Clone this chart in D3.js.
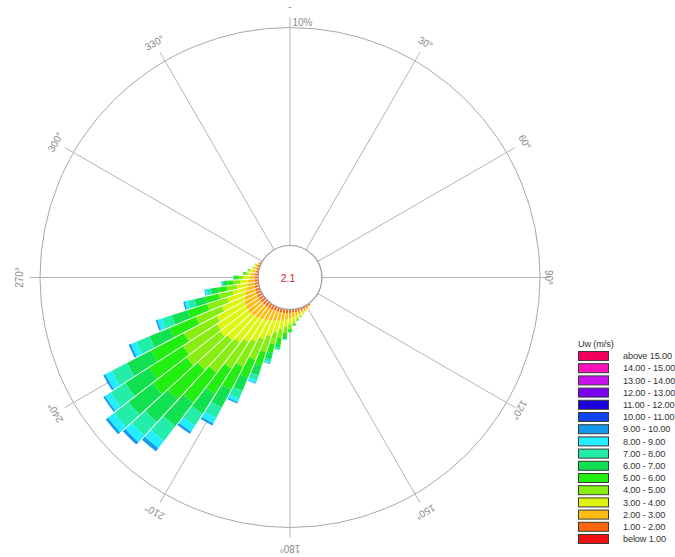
<!DOCTYPE html>
<html>
<head>
<meta charset="utf-8">
<script src="https://cdn.jsdelivr.net/npm/d3@7"></script>
<style>
  body { margin: 0; background: #fff; }
  svg { display: block; font-family: "Liberation Sans", Arial, sans-serif; }
</style>
</head>
<body>
<svg id="chart" width="675" height="557"></svg>
<script>
// Wind directions (bin centres, degrees clockwise from north), 5° bins
const directions = [145, 150, 155, 160, 165, 170, 175, 180, 185, 190, 195, 200, 205, 210, 215, 220,
                    225, 230, 235, 240, 245, 250, 255, 260, 265, 270, 275, 280, 285, 290, 295];

// Frequency (%) per speed class, one value per direction above
const freqBelow1 = [0.02, 0.02, 0.02, 0.02, 0.02, 0.02, 0.02, 0.02, 0.02, 0.02, 0.02, 0.02, 0.02, 0.02, 0.02, 0.02,
                    0.02, 0.02, 0.02, 0.02, 0.02, 0.02, 0.02, 0.02, 0.02, 0.02, 0.02, 0.02, 0.02, 0.02, 0.02];
const freq1to2 = [0.06, 0.08, 0.09, 0.10, 0.11, 0.12, 0.13, 0.14, 0.15, 0.16, 0.17, 0.18, 0.19, 0.20, 0.21, 0.22,
                  0.23, 0.24, 0.24, 0.23, 0.22, 0.20, 0.18, 0.16, 0.15, 0.14, 0.12, 0.11, 0.09, 0.08, 0.06];
const freq2to3 = [0.04, 0.06, 0.09, 0.11, 0.14, 0.17, 0.21, 0.25, 0.28, 0.32, 0.36, 0.42, 0.48, 0.55, 0.60, 0.66,
                  0.70, 0.72, 0.70, 0.66, 0.58, 0.50, 0.42, 0.35, 0.29, 0.24, 0.18, 0.15, 0.11, 0.09, 0.05];
const freq3to4 = [0.00, 0.02, 0.04, 0.06, 0.09, 0.13, 0.19, 0.27, 0.35, 0.45, 0.58, 0.75, 0.92, 1.10, 1.22, 1.40,
                  1.50, 1.60, 1.55, 1.42, 1.10, 0.85, 0.62, 0.48, 0.36, 0.27, 0.17, 0.12, 0.07, 0.04, 0.02];
const freq4to5 = [0.00, 0.00, 0.01, 0.03, 0.05, 0.08, 0.12, 0.20, 0.29, 0.40, 0.55, 0.78, 1.02, 1.30, 1.45, 1.75,
                  1.85, 1.95, 1.85, 1.70, 1.30, 0.95, 0.65, 0.45, 0.32, 0.21, 0.12, 0.07, 0.03, 0.02, 0.00];
const freq5to6 = [0.00, 0.00, 0.00, 0.00, 0.01, 0.03, 0.06, 0.11, 0.18, 0.28, 0.43, 0.65, 0.90, 1.20, 1.40, 1.75,
                  1.85, 1.95, 1.85, 1.70, 1.30, 0.95, 0.63, 0.42, 0.26, 0.15, 0.06, 0.03, 0.01, 0.00, 0.00];
const freq6to7 = [0.00, 0.00, 0.00, 0.00, 0.00, 0.00, 0.02, 0.05, 0.09, 0.16, 0.27, 0.45, 0.65, 0.90, 1.06, 1.35,
                  1.40, 1.40, 1.30, 1.25, 1.00, 0.75, 0.50, 0.32, 0.17, 0.08, 0.03, 0.00, 0.00, 0.00, 0.00];
const freq7to8 = [0.00, 0.00, 0.00, 0.00, 0.00, 0.00, 0.00, 0.01, 0.03, 0.08, 0.14, 0.26, 0.38, 0.55, 0.65, 0.85,
                  0.85, 0.85, 0.80, 0.80, 0.65, 0.48, 0.32, 0.19, 0.09, 0.03, 0.00, 0.00, 0.00, 0.00, 0.00];
const freq8to9 = [0.00, 0.00, 0.00, 0.00, 0.00, 0.00, 0.00, 0.00, 0.01, 0.03, 0.06, 0.11, 0.18, 0.28, 0.32, 0.42,
                  0.40, 0.35, 0.30, 0.32, 0.28, 0.22, 0.15, 0.08, 0.03, 0.01, 0.00, 0.00, 0.00, 0.00, 0.00];
const freq9to10 = [0.00, 0.00, 0.00, 0.00, 0.00, 0.00, 0.00, 0.00, 0.00, 0.00, 0.02, 0.03, 0.06, 0.10, 0.12, 0.18,
                   0.15, 0.12, 0.09, 0.10, 0.10, 0.08, 0.06, 0.03, 0.01, 0.00, 0.00, 0.00, 0.00, 0.00, 0.00];
// Higher classes (10 m/s and above) have no observations
const freqSeries = [freqBelow1, freq1to2, freq2to3, freq3to4, freq4to5, freq5to6, freq6to7, freq7to8, freq8to9, freq9to10];

// Speed classes, lowest first, with their colours
const speedLabels = ["below 1.00", "1.00 - 2.00", "2.00 - 3.00", "3.00 - 4.00", "4.00 - 5.00", "5.00 - 6.00",
                     "6.00 - 7.00", "7.00 - 8.00", "8.00 - 9.00", "9.00 - 10.00", "10.00 - 11.00", "11.00 - 12.00",
                     "12.00 - 13.00", "13.00 - 14.00", "14.00 - 15.00", "above 15.00"];
const speedColors = ["#ee1111", "#ff6611", "#ffbb11", "#ddf511", "#88ee11", "#22ee11", "#11e050", "#22eeaa",
                     "#22eeff", "#1199ee", "#1144ee", "#1a00dd", "#7a00ee", "#cc11ee", "#ff11bb", "#f0005a"];

const calmPercent = "2.1";
const angleTicks = [0, 30, 60, 90, 120, 150, 180, 210, 240, 270, 300, 330];
const angleTickLabels = ["-", "30°", "60°", "90°", "120°", "150°", "180°", "210°", "240°", "270°", "300°", "330°"];
const radialMax = 10;
const radialLabel = "10%";
const legendTitle = "Uw (m/s)";

const svg = d3.select("#chart");
const cx = 290, cy = 277.5;
const innerR = 32, outerR = 250;

const rScale = d3.scaleLinear().domain([0, radialMax]).range([innerR, outerR]);
const aScale = d3.scaleLinear().domain([0, 360]).range([0, 2 * Math.PI]);
const binHalf = 2.5;

const g = svg.append("g").attr("transform", `translate(${cx},${cy})`);

// Outer ring
g.append("circle").attr("r", rScale(radialMax))
  .attr("fill", "none").attr("stroke", "#a8a8a8").attr("stroke-width", 1);

// Direction spokes
g.selectAll("line.spoke").data(angleTicks).join("line")
  .attr("class", "spoke")
  .attr("x1", d => innerR * Math.sin(aScale(d)))
  .attr("y1", d => -innerR * Math.cos(aScale(d)))
  .attr("x2", d => (outerR + 10) * Math.sin(aScale(d)))
  .attr("y2", d => -(outerR + 10) * Math.cos(aScale(d)))
  .attr("stroke", "#b4b4b4").attr("stroke-width", 1);

// Stacked frequencies per direction
const keys = freqSeries.map((_, i) => i);
const rows = directions.map((dir, i) => {
  const row = { dir };
  keys.forEach(k => { row[k] = freqSeries[k][i]; });
  return row;
});
const stacked = d3.stack().keys(keys)(rows);

const arc = d3.arc()
  .innerRadius(d => rScale(d[0]))
  .outerRadius(d => rScale(d[1]))
  .startAngle(d => aScale(d.data.dir - binHalf))
  .endAngle(d => aScale(d.data.dir + binHalf))
  .padAngle(0.012)
  .padRadius(80);

g.selectAll("g.layer").data(stacked).join("g")
  .attr("class", "layer")
  .attr("fill", d => speedColors[d.key])
  .selectAll("path").data(d => d.filter(s => s[1] - s[0] > 0)).join("path")
  .attr("d", arc);

// Calm circle
g.append("circle").attr("r", innerR)
  .attr("fill", "#fff").attr("stroke", "#999").attr("stroke-width", 1.2);
g.append("text").attr("x", -2).attr("y", 4)
  .attr("text-anchor", "middle").attr("font-size", 10.5)
  .attr("fill", "#dd2233").text(calmPercent);

// Direction labels, rotated along the ring
const labelR = d => (d === 90 ? 258 : d === 120 ? 265 : 271);
g.selectAll("text.dir").data(angleTicks).join("text")
  .attr("class", "dir")
  .attr("transform", d => {
    const x = labelR(d) * Math.sin(aScale(d));
    const y = -labelR(d) * Math.cos(aScale(d));
    return `translate(${x},${y}) rotate(${d})`;
  })
  .attr("text-anchor", "middle").attr("dy", "0.35em")
  .attr("font-size", 10).attr("fill", "#8a8a8a")
  .text((d, i) => angleTickLabels[i]);

// Radial scale label
g.append("text").attr("x", 2.5).attr("y", -rScale(radialMax) - 2)
  .attr("font-size", 10).attr("fill", "#8a8a8a").text(radialLabel);

// Legend
const legend = svg.append("g").attr("transform", "translate(578,0)");
legend.append("text").attr("x", 0).attr("y", 346.5)
  .attr("font-size", 9.2).attr("letter-spacing", -0.15).attr("fill", "#333").text(legendTitle);
const legendRows = speedLabels.map((label, i) => ({ label, color: speedColors[i] })).reverse();
const ly = d3.scaleLinear().domain([0, 15]).range([351, 534]);
const item = legend.selectAll("g.item").data(legendRows).join("g")
  .attr("class", "item")
  .attr("transform", (d, i) => `translate(0,${ly(i)})`);
item.append("rect").attr("x", 0.5).attr("y", 0.5).attr("width", 30).attr("height", 9)
  .attr("fill", d => d.color).attr("stroke", "#3a3a3a").attr("stroke-width", 1);
item.append("text").attr("x", 45).attr("y", 8.3)
  .attr("font-size", 9.2).attr("letter-spacing", -0.15).attr("fill", "#333").text(d => d.label);
</script>
</body>
</html>
